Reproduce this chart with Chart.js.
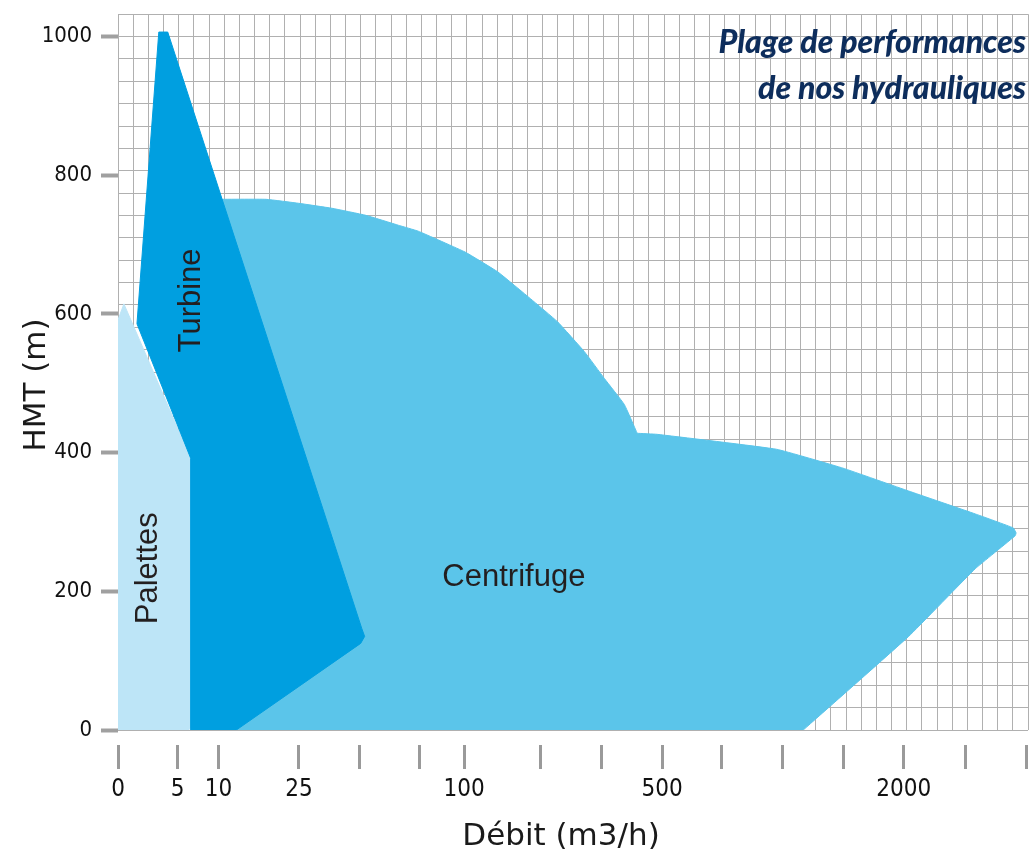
<!DOCTYPE html>
<html>
<head>
<meta charset="utf-8">
<script src="https://cdn.jsdelivr.net/npm/chart.js@4.4.1/dist/chart.umd.min.js"></script>
<style>
  html, body { margin: 0; padding: 0; background: #ffffff; }
  #plage { display: block; }
</style>
</head>
<body>
<canvas id="plage" width="1033" height="852"></canvas>
<script>
// Axe du débit : position sur le quadrillage (1 unité = 1 colonne)
const positionsDebit = [0, 3.93, 6.62, 11.93, 15.93, 19.87, 22.82, 27.87, 31.87, 35.87, 39.80, 43.80, 47.80, 51.80, 55.87, 59.93];
const etiquettesDebit = ['0', '5', '10', '25', '', '', '100', '', '', '500', '', '', '', '2000', '', ''];
const graduationsHMT = [0, 200, 400, 600, 800, 1000];

// Contours des zones : [position débit, HMT (m)]
// (un point répété = angle vif)
const zonePalettes = [[0, 0], [0, 591.5], [0.39, 614.5], [4.79, 392.0], [4.79, 4.3], [4.66, 0]];
const zoneTurbine = [[4.79, 0], [4.79, 392.0], [1.25, 585.8], [2.69, 1006.5], [3.28, 1006.5],
  [16.07, 146.5], [16.26, 135.0], [16.0, 124.9], [7.80, 0]];
const zoneCentrifuge = [[5.38, 0], [5.38, 0], [6.36, 765.3], [6.36, 765.3], [9.77, 765.3], [11.93, 759.5],
  [14.10, 752.4], [16.33, 742.3], [18.49, 727.9], [19.80, 719.3], [22.89, 689.2], [25.05, 660.5],
  [27.21, 621.7], [28.98, 588.7], [30.75, 545.6], [32.07, 506.8], [33.38, 469.5], [34.23, 427.9],
  [34.23, 427.9], [35.54, 426.4], [43.41, 404.9], [47.80, 377.6], [52.13, 344.6], [56.52, 311.6],
  [59.02, 291.5], [59.21, 284.3], [59.15, 280.0], [56.52, 232.6], [52.13, 135.0], [45.18, 0], [45.18, 0]];

const nbColonnes = 60;
const nbLignes = 32;          // le quadrillage : 31 lignes pour 1000 m
const hmtMax = nbLignes * 1000 / 31;

const policeChiffres = "'DejaVu Sans Condensed', sans-serif";

// une zone = un polygone rempli
function zone(nom, points, couleur, lissage) {
  return {
    label: nom,
    data: points.map(p => ({ x: p[0], y: p[1] })),
    showLine: true,
    fill: 'shape',
    backgroundColor: couleur,
    borderColor: couleur,
    borderWidth: 1,
    pointRadius: 0,
    tension: lissage
  };
}

// textes : noms des zones, titres des axes, titre
const textes = {
  id: 'textes',
  afterDatasetsDraw(chart) {
    const { ctx, scales: { x, y } } = chart;
    ctx.save();
    ctx.fillStyle = '#231f20';
    ctx.font = "31px 'Liberation Sans', Arial, sans-serif";
    ctx.textAlign = 'center';
    ctx.textBaseline = 'alphabetic';
    ctx.fillText('Centrifuge', x.getPixelForValue(26.1), y.getPixelForValue(208));
    [['Turbine', 5.38, 619.5], ['Palettes', 2.56, 233.3]].forEach(([t, vx, vy]) => {
      ctx.save();
      ctx.translate(x.getPixelForValue(vx), y.getPixelForValue(vy));
      ctx.rotate(-Math.PI / 2);
      ctx.fillText(t, 0, 0);
      ctx.restore();
    });
    ctx.restore();
  },
  afterDraw(chart) {
    const ctx = chart.ctx;
    ctx.save();
    // titres des axes
    ctx.fillStyle = '#1a1a1a';
    ctx.font = "31px 'DejaVu Sans', sans-serif";
    ctx.textAlign = 'center';
    ctx.textBaseline = 'alphabetic';
    ctx.fillText('Débit (m3/h)', 561, 845);
    ctx.save();
    ctx.translate(45, 385);
    ctx.rotate(-Math.PI / 2);
    ctx.fillText('HMT (m)', 0, 0);
    ctx.restore();
    // titre en haut à droite
    ctx.fillStyle = '#0d2d5c';
    ctx.font = "italic 900 32px Lato, 'DejaVu Sans', sans-serif";
    ctx.textAlign = 'right';
    ctx.fillText('Plage de performances', 1026, 53);
    ctx.fillText('de nos hydrauliques', 1026, 99);
    ctx.restore();
  }
};

new Chart(document.getElementById('plage'), {
  type: 'scatter',
  data: {
    datasets: [
      zone('Turbine', zoneTurbine, '#009fe0', 0),
      zone('Centrifuge', zoneCentrifuge, '#5bc5ea', 0.1),
      zone('Palettes', zonePalettes, '#bde5f7', 0)
    ]
  },
  options: {
    responsive: false,
    animation: false,
    devicePixelRatio: 1,
    layout: { padding: { top: 11, right: 0, left: 0, bottom: 0 } },
    plugins: { legend: { display: false }, tooltip: { enabled: false } },
    scales: {
      // quadrillage vertical
      x: {
        type: 'linear', position: 'bottom', min: 0, max: nbColonnes,
        afterBuildTicks: s => { s.ticks = Array.from({ length: nbColonnes + 1 }, (_, i) => ({ value: i })); },
        ticks: { display: false },
        grid: { color: '#b0b0b0', lineWidth: 1, drawTicks: false },
        border: { display: false },
        afterFit: s => { s.height = 0; }
      },
      // graduations du débit
      xDebit: {
        type: 'linear', position: 'bottom', min: 0, max: nbColonnes,
        afterBuildTicks: s => { s.ticks = positionsDebit.map(v => ({ value: v })); },
        ticks: {
          autoSkip: false, maxRotation: 0, padding: 6, color: '#111',
          font: { family: policeChiffres, size: 24 },
          callback: (v, i) => etiquettesDebit[i]
        },
        grid: {
          drawOnChartArea: false, tickLength: 39, tickColor: '#9a9a9a', tickWidth: 3,
          tickBorderDash: [24, 15], tickBorderDashOffset: 24
        },
        border: { display: false },
        afterFit: s => { s.height = 122; }
      },
      // quadrillage horizontal
      y: {
        type: 'linear', position: 'left', min: 0, max: hmtMax,
        afterBuildTicks: s => { s.ticks = Array.from({ length: nbLignes + 1 }, (_, i) => ({ value: i * 1000 / 31 })); },
        ticks: { display: false },
        grid: { color: '#b0b0b0', lineWidth: 1, drawTicks: false },
        border: { display: false },
        afterFit: s => { s.width = 0; }
      },
      // graduations HMT
      yHMT: {
        type: 'linear', position: 'left', min: 0, max: hmtMax,
        afterBuildTicks: s => { s.ticks = graduationsHMT.map(v => ({ value: v })); },
        ticks: {
          padding: 1, color: '#111',
          font: { family: policeChiffres, size: 22 },
          callback: v => String(v)
        },
        grid: {
          drawOnChartArea: false, tickLength: 25, tickColor: '#a0a0a0', tickWidth: 4,
          tickBorderDash: [17, 8], tickBorderDashOffset: 17
        },
        border: { display: false },
        afterFit: s => { s.width = 118; }
      }
    }
  },
  plugins: [textes]
});
</script>
</body>
</html>
